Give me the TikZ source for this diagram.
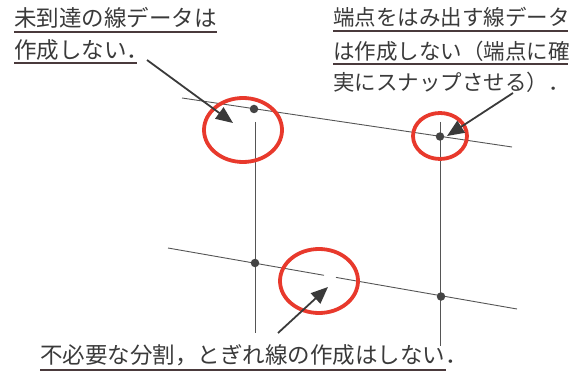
\documentclass[tikz,border=0pt]{standalone}
\usepackage{fontspec}
\setmainfont{Noto Sans CJK JP}
\usetikzlibrary{arrows.meta,shapes.geometric}
\definecolor{txt}{HTML}{3A3A3A}
\definecolor{ul}{HTML}{4A3A3C}
\definecolor{ring}{HTML}{E8392C}
\definecolor{ln}{HTML}{555555}
\definecolor{dotc}{HTML}{444444}
\tikzset{
  label/.style={inner sep=0pt, anchor=base west, text=txt, font=\fontsize{22.5pt}{22.5pt}\selectfont},
  labelr/.style={label, font=\fontsize{21.5pt}{21.5pt}\selectfont},
  uline/.style={ul, line width=1.1pt},
  thin/.style={ln, line width=0.9pt},
  ptdot/.style={circle, fill=dotc, inner sep=0pt, minimum size=8.5pt},
  ringc/.style={ring, line width=3.8pt, draw, ellipse, inner sep=0pt},
  pointer/.style={txt, line width=1.8pt, -{Triangle[length=17pt,width=14pt]}}
}
\begin{document}
\begin{tikzpicture}[x=1pt,y=-1pt]
\useasboundingbox (0,0) rectangle (581,374);
% text
\node[label] (t1a) at (14,27) {未到達の線データは};
\node[label] (t1b) at (14,59) {作成しない．};
\node[labelr] (t2a) at (333,26) {端点をはみ出す線データ};
\node[labelr] (t2b) at (333,60) {は作成しない（端点に確};
\node[labelr] (t2c) at (333,91) {実にスナップさせる）．};
\node[label] (t3) at (40,363) {不必要な分割，とぎれ線の作成はしない．};
% underlines
\draw[uline] (14,32) -- (217,32);
\draw[uline] (14,63) -- (137,63);
\draw[uline] (333,31) -- (568,31);
\draw[uline] (333,64) -- (568,64);
\draw[uline] (40,370) -- (446,370);
% lines
\coordinate (l1a) at (182,98);
\coordinate (l1b) at (512,147);
\coordinate (l2a) at (168,248);
\coordinate (l2b) at (517,309);
\coordinate (g1) at (324,275.3);
\coordinate (g2) at (336,277.4);
\coordinate (v1a) at (255,122);
\coordinate (v1b) at (255,333);
\coordinate (v2a) at (440,122);
\coordinate (v2b) at (440,346);
\draw[thin] (l1a) -- (l1b);
\draw[thin] (l2a) -- (g1);
\draw[thin] (g2) -- (l2b);
\draw[thin] (v1a) -- (v1b);
\draw[thin] (v2a) -- (v2b);
% dots
\node[ptdot] (d1) at (254,109) {};
\node[ptdot] (d2) at (440,136.5) {};
\node[ptdot] (d3) at (255,263) {};
\node[ptdot] (d4) at (441,296.5) {};
% rings
\node[ringc, minimum width=78pt, minimum height=64pt] (r1) at (243,130) {};
\node[ringc, minimum width=54pt, minimum height=46pt] (r2) at (440,136) {};
\node[ringc, minimum width=78pt, minimum height=64pt] (r3) at (319,281) {};
% arrows
\coordinate (a1s) at (147,60);
\coordinate (a1e) at (233,123);
\coordinate (a2s) at (513,93);
\coordinate (a2e) at (447,136);
\coordinate (a3s) at (278,333);
\coordinate (a3e) at (328,287);
\draw[pointer] (a1s) -- (a1e);
\draw[pointer] (a2s) -- (a2e);
\draw[pointer] (a3s) -- (a3e);
\end{tikzpicture}
\end{document}
